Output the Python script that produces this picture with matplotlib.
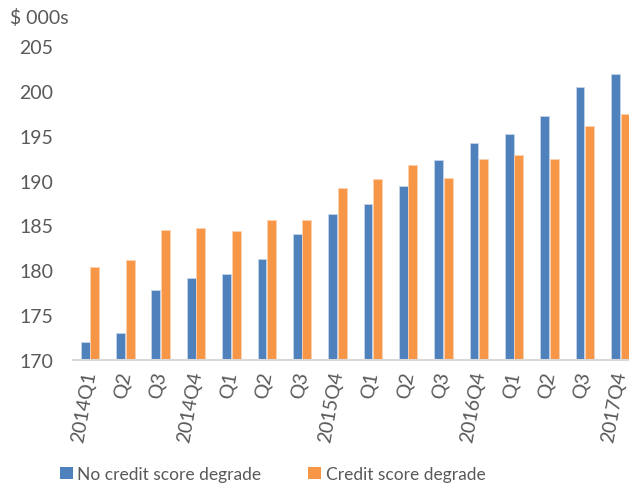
import matplotlib
matplotlib.use("Agg")
import matplotlib.pyplot as plt
import numpy as np
from matplotlib.patches import Patch

plt.rcParams['font.family'] = ['Lato', 'DejaVu Sans']

categories = ["2014Q1", "Q2", "Q3", "2014Q4", "Q1", "Q2", "Q3", "2015Q4",
              "Q1", "Q2", "Q3", "2016Q4", "Q1", "Q2", "Q3", "2017Q4"]
no_degrade = [172.0, 173.0, 177.8, 179.1, 179.6, 181.3, 184.0, 186.3,
              187.4, 189.4, 192.3, 194.2, 195.2, 197.2, 200.4, 201.9]
degrade = [180.4, 181.2, 184.5, 184.7, 184.4, 185.6, 185.6, 189.2,
           190.2, 191.7, 190.3, 192.4, 192.9, 192.4, 196.1, 197.4]
series_names = ["No credit score degrade", "Credit score degrade"]
yticks = [170, 175, 180, 185, 190, 195, 200, 205]

blue = "#4f81bd"
orange = "#f79646"
txt = "#595959"

fig = plt.figure(figsize=(6.29, 4.89), dpi=100)
ax = fig.add_axes([73/629, 1-361/489, 1-73/629, (361-47)/489])

x = np.arange(len(categories))
w = 0.25
ax.bar(x - w/2 - 0.01, no_degrade, width=w, color=blue, edgecolor="#c5d5ea", linewidth=0.6)
ax.bar(x + w/2 + 0.01, degrade, width=w, color=orange, edgecolor="#fbd2b0", linewidth=0.6)

ax.set_ylim(170, 205)
ax.set_xlim(-0.48, 15.25)
ax.set_yticks(yticks)
ax.set_yticklabels([str(v) for v in yticks], fontsize=14, color=txt)
ax.set_xticks(x)
ax.set_xticklabels(categories, fontsize=14, color=txt, rotation=80,
                   ha='right', va='center', rotation_mode='anchor')
ax.tick_params(axis='both', length=0)
ax.tick_params(axis='y', pad=14)
ax.tick_params(axis='x', pad=8)
for s in ['top', 'right', 'left']:
    ax.spines[s].set_visible(False)
ax.spines['bottom'].set_color("#d9d9d9")
ax.spines['bottom'].set_linewidth(1.5)

fig.text(10/629, 1-18/489, "$ 000s", fontsize=14, color=txt, va='center', ha='left')

handles = [Patch(facecolor=blue, edgecolor='none'), Patch(facecolor=orange, edgecolor='none')]
fig.legend(handles, series_names, loc='center left', bbox_to_anchor=(60/629, 1-475/489),
           ncol=2, frameon=False, fontsize=12.5, labelcolor=txt,
           handlelength=0.75, handleheight=0.75, handletextpad=0.25, columnspacing=2.7,
           borderaxespad=0, borderpad=0)

fig.savefig("out.png", dpi=100)
